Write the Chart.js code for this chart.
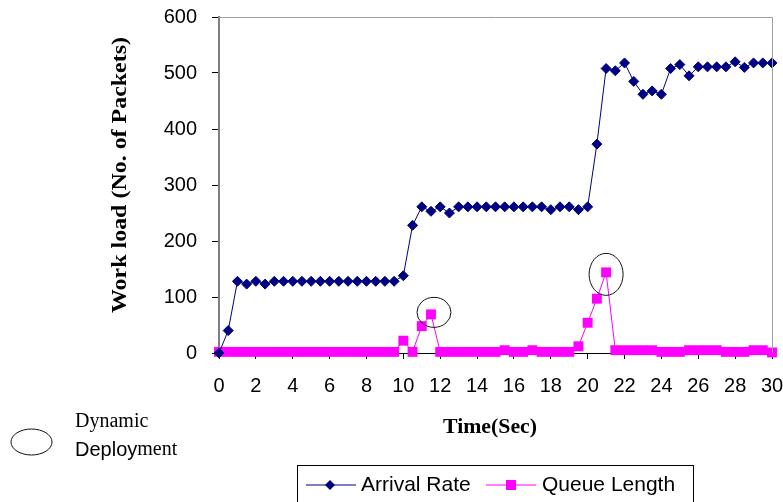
<!DOCTYPE html>
<html>
<head>
<meta charset="utf-8">
<script src="https://cdn.jsdelivr.net/npm/chart.js@4"></script>
<style>
  html, body { margin: 0; padding: 0; background: #fff; }
  #wrap { width: 783px; height: 502px; position: relative; }
</style>
</head>
<body>
<div id="wrap"><canvas id="loadChart" width="783" height="502"></canvas></div>
<script>
// Time axis (seconds), one sample every half second
const times = [0, 0.5, 1, 1.5, 2, 2.5, 3, 3.5, 4, 4.5, 5, 5.5, 6, 6.5, 7, 7.5, 8, 8.5, 9, 9.5,
  10, 10.5, 11, 11.5, 12, 12.5, 13, 13.5, 14, 14.5, 15, 15.5, 16, 16.5, 17, 17.5, 18, 18.5, 19, 19.5,
  20, 20.5, 21, 21.5, 22, 22.5, 23, 23.5, 24, 24.5, 25, 25.5, 26, 26.5, 27, 27.5, 28, 28.5, 29, 29.5, 30];

// Arrival rate (packets)
const arrivalRate = [0, 40, 128, 123, 128, 123, 128, 128, 128, 128, 128, 128, 128, 128, 128, 128, 128, 128, 128, 128,
  138, 228, 261, 253, 261, 250, 261, 261, 261, 261, 261, 261, 261, 261, 261, 261, 256, 261, 261, 256,
  261, 373, 508, 504, 518, 485, 462, 468, 462, 508, 515, 495, 511, 511, 511, 511, 520, 510, 518, 518, 518];

// Queue length (packets)
const queueLength = [2, 2, 2, 2, 2, 2, 2, 2, 2, 2, 2, 2, 2, 2, 2, 2, 2, 2, 2, 2,
  22, 2, 48, 69, 2, 2, 2, 2, 2, 2, 2, 5, 2, 2, 5, 2, 2, 2, 2, 12,
  54, 97, 144, 5, 5, 5, 5, 5, 2, 2, 2, 5, 5, 5, 5, 2, 2, 2, 5, 5, 1];

// times where dynamic deployment happened (circled on the queue line)
const deployTimes = [11.5, 21];

const yTicks = [0, 100, 200, 300, 400, 500, 600];

const NAVY = '#000080';
const MAGENTA = '#FF00FF';
const SANS = '"Liberation Sans", Arial, sans-serif';
const SERIF = '"Liberation Serif", "Times New Roman", serif';

// draw text stretched/shrunk to a given width
function fitText(ctx, txt, x, y, w) {
    const m = ctx.measureText(txt).width;
    ctx.save();
    ctx.translate(x, y);
    ctx.scale(w / m, 1);
    ctx.fillText(txt, 0, 0);
    ctx.restore();
}

const extras = {
    id: 'extras',
    afterDraw(chart) {
        const ctx = chart.ctx;
        const a = chart.chartArea;
        const xs = chart.scales.x, ys = chart.scales.y;
        ctx.save();

        // top + right frame of plot area
        ctx.strokeStyle = '#a0a0a0';
        ctx.lineWidth = 1;
        ctx.beginPath();
        ctx.moveTo(a.left, a.top + 0.5);
        ctx.lineTo(a.right + 0.5, a.top + 0.5);
        ctx.lineTo(a.right + 0.5, a.bottom);
        ctx.stroke();

        // ellipses round the deployment peaks
        ctx.strokeStyle = '#111';
        ctx.lineWidth = 1;
        const ell = [[3, -2, 17, 15], [0, 2, 17, 21]];
        deployTimes.forEach((t, i) => {
            const idx = times.indexOf(t);
            const px = xs.getPixelForValue(t) + ell[i][0];
            const py = ys.getPixelForValue(queueLength[idx]) + ell[i][1];
            ctx.beginPath();
            ctx.ellipse(px, py, ell[i][2], ell[i][3], 0, 0, Math.PI * 2);
            ctx.stroke();
        });

        // axis titles
        ctx.fillStyle = '#000';
        ctx.textAlign = 'center';
        ctx.textBaseline = 'middle';
        ctx.font = 'bold 22px ' + SERIF;
        ctx.save();
        ctx.translate(120, 175);
        ctx.rotate(-Math.PI / 2);
        fitText(ctx, 'Work load (No. of Packets)', 0, 0, 276);
        ctx.restore();
        ctx.font = 'bold 21px ' + SERIF;
        fitText(ctx, 'Time(Sec)', 490, 428, 94);

        // "Dynamic Deployment" key
        ctx.beginPath();
        ctx.ellipse(31.5, 442, 20.5, 13, 0, 0, Math.PI * 2);
        ctx.stroke();
        ctx.textAlign = 'left';
        ctx.font = '20px ' + SERIF;
        ctx.fillText('Dynamic', 75, 422);
        ctx.font = '20px ' + SANS;
        ctx.fillText('Deploy', 75, 450);
        const dw = ctx.measureText('Deploy').width;
        ctx.font = '20px ' + SERIF;
        ctx.fillText('ment', 75 + dw, 450);

        // legend box
        ctx.strokeStyle = '#000';
        ctx.strokeRect(297.5, 465.5, 396, 40);
        const ly = 485;
        ctx.lineWidth = 1;
        ctx.strokeStyle = NAVY;
        ctx.beginPath(); ctx.moveTo(306, ly); ctx.lineTo(356, ly); ctx.stroke();
        ctx.fillStyle = NAVY;
        ctx.beginPath();
        ctx.moveTo(330, ly - 5); ctx.lineTo(335, ly); ctx.lineTo(330, ly + 5); ctx.lineTo(325, ly);
        ctx.closePath(); ctx.fill();
        ctx.strokeStyle = MAGENTA;
        ctx.beginPath(); ctx.moveTo(486, ly); ctx.lineTo(536, ly); ctx.stroke();
        ctx.fillStyle = MAGENTA;
        ctx.fillRect(506, ly - 5, 10, 10);
        ctx.fillStyle = '#000';
        ctx.font = '21px ' + SANS;
        ctx.fillText('Arrival Rate', 361, ly);
        ctx.fillText('Queue Length', 542, ly);

        ctx.restore();
    }
};

const ctx = document.getElementById('loadChart').getContext('2d');
new Chart(ctx, {
    type: 'line',
    data: {
        datasets: [{
            label: 'Arrival Rate',
            data: times.map((t, i) => ({ x: t, y: arrivalRate[i] })),
            borderColor: NAVY,
            backgroundColor: NAVY,
            borderWidth: 1,
            pointStyle: 'rectRot',
            pointRadius: 5,
            pointBorderWidth: 1,
            tension: 0,
            clip: false
        }, {
            label: 'Queue Length',
            data: times.map((t, i) => ({ x: t, y: queueLength[i] })),
            borderColor: MAGENTA,
            backgroundColor: MAGENTA,
            borderWidth: 1,
            pointStyle: 'rect',
            pointRadius: 7,
            pointBorderWidth: 0,
            tension: 0,
            clip: false
        }]
    },
    options: {
        responsive: false,
        animation: false,
        layout: { padding: { left: 0, right: 11, top: 17, bottom: 0 } },
        plugins: { legend: { display: false }, tooltip: { enabled: false } },
        scales: {
            x: {
                type: 'linear',
                min: 0, max: 30,
                afterFit: s => { s.height = 149; s.paddingLeft = 0; s.paddingRight = 0; },
                ticks: {
                    stepSize: 2,
                    color: '#000',
                    font: { family: SANS, size: 20 },
                    padding: 15,
                    maxRotation: 0
                },
                grid: { drawOnChartArea: false, drawTicks: true, tickLength: 6, color: '#000' },
                border: { color: '#000', width: 1 }
            },
            y: {
                min: 0, max: 600,
                afterFit: s => { s.width = 219; s.paddingTop = 0; s.paddingBottom = 0; },
                afterBuildTicks: s => { s.ticks = yTicks.map(v => ({ value: v })); },
                ticks: {
                    color: '#000',
                    font: { family: SANS, size: 20 },
                    padding: 15
                },
                grid: { drawOnChartArea: false, drawTicks: true, tickLength: 7, color: '#000' },
                border: { color: '#808080', width: 2 }
            }
        }
    },
    plugins: [extras]
});
</script>
</body>
</html>
